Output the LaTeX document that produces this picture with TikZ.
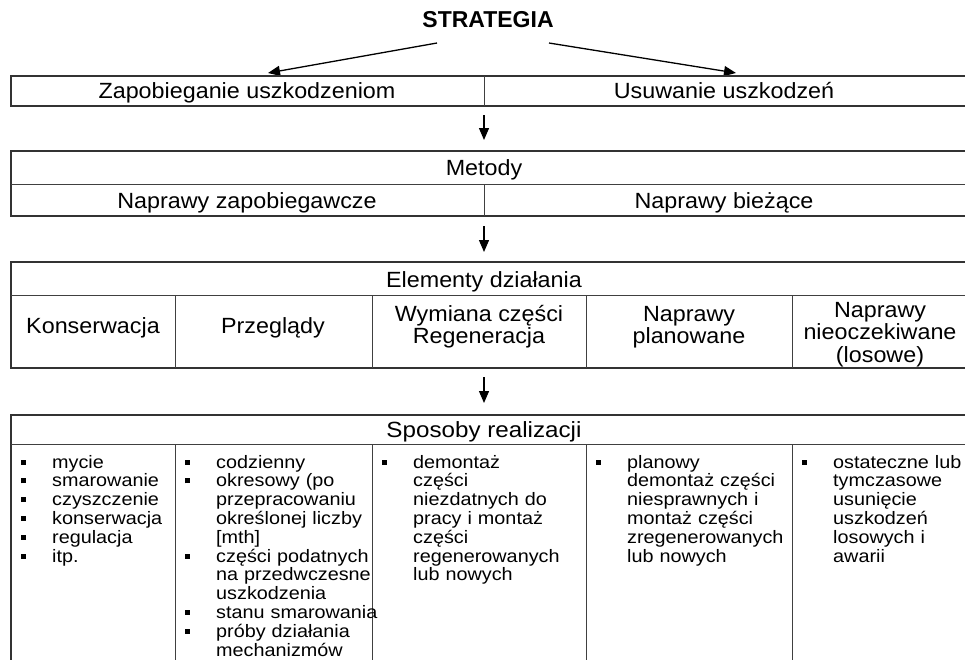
\documentclass[tikz,border=0pt]{standalone}
\usepackage{fontspec}
\setmainfont{Liberation Sans}
\newfontfamily\hdrf[FakeStretch=1.06]{Liberation Sans}
\newfontfamily\bodyf[FakeStretch=1.1]{Liberation Sans}
\usetikzlibrary{arrows.meta}
\newcommand\itm[1]{\par\hangindent=31pt\hangafter=1\noindent\hbox to 31pt{\rule[3.5pt]{5pt}{5pt}\hfil}\rule{0pt}{14pt}#1\par}
\begin{document}
\begin{tikzpicture}[x=1pt,y=-1pt,
  box/.style={draw=black!80, line width=1.4pt},
  div/.style={draw=black!75, line width=1pt},
  arr/.style={line width=1.3pt, -{Triangle[length=12pt,width=10pt]}},
  hdr/.style={font=\hdrf\fontsize{22}{22.5}\selectfont, align=center, inner sep=0pt, anchor=base},
  lst/.style={font=\bodyf\fontsize{18}{18.8}\selectfont, anchor=north west, inner sep=0pt, text width=200pt}]
\useasboundingbox (0,0) rectangle (965,659);

% title and first arrows
\node[font=\bfseries\fontsize{23}{23}\selectfont, inner sep=0pt] (str) at (488,20) {STRATEGIA};
\coordinate (sl) at (437,43); \coordinate (sr) at (549,43);
\coordinate (tl) at (268,73); \coordinate (tr) at (736,73);
\draw[arr] (sl) -- (tl);
\draw[arr] (sr) -- (tr);

% box 1
\draw[box] (11,76) rectangle (975,106);
\draw[div] (484,76) -- (484,106);
\node[hdr] (zap) at (247,98.5) {Zapobieganie uszkodzeniom};
\node[hdr] (usu) at (724,98.5) {Usuwanie uszkodzeń};

\coordinate (a1s) at (484,115); \coordinate (a1e) at (484,140);
\draw[arr] (a1s) -- (a1e);

% box 2
\draw[box] (11,151) rectangle (975,216);
\draw[div] (11,184) -- (975,184);
\draw[div] (484,184) -- (484,216);
\node[hdr] (met) at (484,175) {Metody};
\node[hdr] (nzap) at (247,208) {Naprawy zapobiegawcze};
\node[hdr] (nbie) at (724,208) {Naprawy bieżące};

\coordinate (a2s) at (484,226); \coordinate (a2e) at (484,252);
\draw[arr] (a2s) -- (a2e);

% box 3
\draw[box] (11,262) rectangle (975,368);
\draw[div] (11,295) -- (975,295);
\foreach \x in {175,372,586,792} \draw[div] (\x,295) -- (\x,368);
\node[hdr] (elem) at (484,287) {Elementy działania};
\node[hdr] (kons) at (93,333) {Konserwacja};
\node[hdr] (prze) at (273,333) {Przeglądy};
\node[hdr] (wym) at (479,343.5) {Wymiana części\\Regeneracja};
\node[hdr] (npl) at (689,343.5) {Naprawy\\planowane};
\node[hdr] (nnie) at (880,362) {Naprawy\\nieoczekiwane\\(losowe)};

\coordinate (a3s) at (484,377); \coordinate (a3e) at (484,403);
\draw[arr] (a3s) -- (a3e);

% box 4
\draw[box] (11,415) rectangle (975,690);
\draw[div] (11,444) -- (975,444);
\foreach \x in {175,372,586,792} \draw[div] (\x,444) -- (\x,690);
\node[font=\bodyf\fontsize{22}{22}\selectfont, inner sep=0pt, anchor=base] (spo) at (484,437) {Sposoby realizacji};

\node[lst] (c1) at (21,449) {\itm{mycie}\itm{smarowanie}\itm{czyszczenie}\itm{konserwacja}\itm{regulacja}\itm{itp.}};
\node[lst] (c2) at (185,449) {\itm{codzienny}\itm{okresowy (po\newline przepracowaniu\newline określonej liczby\newline [mth]}\itm{części podatnych\newline na przedwczesne\newline uszkodzenia}\itm{stanu smarowania}\itm{próby działania\newline mechanizmów}};
\node[lst] (c3) at (382,449) {\itm{demontaż\newline części\newline niezdatnych do\newline pracy i montaż\newline części\newline regenerowanych\newline lub nowych}};
\node[lst] (c4) at (596,449) {\itm{planowy\newline demontaż części\newline niesprawnych i\newline montaż części\newline zregenerowanych\newline lub nowych}};
\node[lst] (c5) at (802,449) {\itm{ostateczne lub\newline tymczasowe\newline usunięcie\newline uszkodzeń\newline losowych i\newline awarii}};
\end{tikzpicture}
\end{document}
